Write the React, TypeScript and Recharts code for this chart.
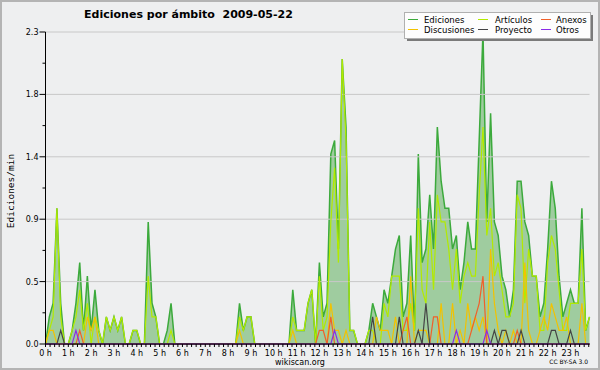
import { ComposedChart, Area, Line, XAxis, YAxis, ReferenceLine } from "recharts";

// 10-minute bins, one row per hour (edits per minute)
const ediciones = [
  0, 0.2, 0.3, 1.0, 0.3, 0,
  0, 0.1, 0.3, 0.6, 0.1, 0.5,
  0.1, 0.4, 0.1, 0, 0.2, 0.1,
  0.2, 0.1, 0.2, 0, 0, 0.1,
  0.1, 0, 0, 0.9, 0.3, 0.2,
  0, 0, 0.1, 0.3, 0, 0,
  0, 0, 0, 0, 0, 0,
  0, 0, 0, 0, 0, 0,
  0, 0, 0, 0.3, 0.1, 0.2,
  0.2, 0, 0, 0, 0, 0,
  0, 0, 0, 0, 0, 0.4,
  0.1, 0.1, 0.1, 0.3, 0.4, 0,
  0.6, 0.2, 0.3, 1.4, 1.5, 0.7,
  2.1, 1.6, 0.1, 0.1, 0, 0,
  0, 0.1, 0.3, 0.2, 0.1, 0.4,
  0.3, 0.5, 0.7, 0.8, 0.2, 0.3,
  0.8, 0.1, 1.4, 0.6, 0.7, 1.1,
  0.7, 1.6, 1.2, 1.0, 1.0, 0.7,
  0.8, 0.4, 0.6, 0.9, 0.7, 0.7,
  1.5, 2.3, 0.9, 1.7, 0.9, 0.8,
  0.5, 0.4, 0.2, 0.4, 1.2, 1.2,
  0.9, 0.8, 0.5, 0.5, 0.2, 0.3,
  0.7, 1.2, 1.0, 0.5, 0.2, 0.3,
  0.4, 0.3, 0.3, 1.0, 0.1, 0.2,
];

const articulos = [
  0, 0.1, 0.2, 1.0, 0.2, 0,
  0, 0.1, 0.2, 0.4, 0.1, 0.3,
  0, 0.2, 0.1, 0, 0.2, 0.1,
  0.2, 0.1, 0.2, 0, 0, 0.1,
  0.1, 0, 0, 0.5, 0.2, 0.2,
  0, 0, 0, 0.1, 0, 0,
  0, 0, 0, 0, 0, 0,
  0, 0, 0, 0, 0, 0,
  0, 0, 0, 0.2, 0.1, 0.2,
  0.2, 0, 0, 0, 0, 0,
  0, 0, 0, 0, 0, 0.2,
  0.1, 0.1, 0.1, 0.3, 0.4, 0,
  0.5, 0.1, 0.2, 0.9, 1.3, 0.6,
  2.1, 1.5, 0.1, 0.1, 0, 0,
  0, 0.1, 0.1, 0, 0, 0.3,
  0.2, 0.5, 0.5, 0.5, 0.1, 0.1,
  0.3, 0.1, 1.0, 0.4, 0.3, 0.9,
  0.4, 1.1, 0.9, 0.9, 0.7, 0.4,
  0.7, 0.3, 0.5, 0.6, 0.5, 0.5,
  1.1, 1.6, 0.8, 1.0, 0.5, 0.6,
  0.4, 0.2, 0.2, 0.3, 1.1, 1.0,
  0.3, 0.7, 0.5, 0.5, 0.1, 0.1,
  0.6, 0.8, 0.7, 0.4, 0.1, 0.1,
  0.3, 0.3, 0.3, 0.7, 0.1, 0.2,
];

const discusiones = [
  0, 0.1, 0.1, 0, 0, 0,
  0, 0, 0, 0, 0, 0.2,
  0.1, 0.2, 0, 0, 0, 0,
  0, 0, 0, 0, 0, 0,
  0, 0, 0, 0, 0, 0,
  0, 0, 0, 0, 0, 0,
  0, 0, 0, 0, 0, 0,
  0, 0, 0, 0, 0, 0,
  0, 0, 0, 0.1, 0, 0,
  0, 0, 0, 0, 0, 0,
  0, 0, 0, 0, 0, 0.1,
  0, 0, 0, 0, 0, 0,
  0, 0, 0, 0.3, 0.1, 0.1,
  0, 0.1, 0, 0, 0, 0,
  0, 0, 0, 0.2, 0.1, 0.1,
  0.1, 0, 0.2, 0, 0, 0,
  0.5, 0, 0.1, 0.1, 0.1, 0,
  0, 0, 0.3, 0, 0, 0.3,
  0, 0.1, 0, 0.3, 0.1, 0.2,
  0.1, 0.2, 0, 0.7, 0.3, 0.1,
  0, 0.1, 0, 0.1, 0, 0,
  0.6, 0.1, 0, 0, 0.1, 0.2,
  0.1, 0.3, 0.2, 0.1, 0.1, 0.2,
  0, 0, 0, 0.3, 0, 0,
];

const anexos = [
  0, 0, 0, 0, 0, 0,
  0, 0, 0, 0.1, 0, 0,
  0, 0, 0, 0, 0, 0,
  0, 0, 0, 0, 0, 0,
  0, 0, 0, 0, 0, 0,
  0, 0, 0, 0, 0, 0,
  0, 0, 0, 0, 0, 0,
  0, 0, 0, 0, 0, 0,
  0, 0, 0, 0, 0, 0,
  0, 0, 0, 0, 0, 0,
  0, 0, 0, 0, 0, 0,
  0, 0, 0, 0, 0, 0,
  0.1, 0.1, 0, 0.2, 0, 0,
  0, 0, 0, 0, 0, 0,
  0, 0, 0, 0, 0, 0,
  0, 0, 0, 0, 0.1, 0.2,
  0, 0, 0, 0, 0, 0,
  0.2, 0.2, 0, 0, 0, 0,
  0, 0, 0, 0, 0.1, 0.2,
  0.3, 0.5, 0, 0, 0, 0,
  0, 0, 0, 0, 0.1, 0,
  0, 0, 0, 0, 0, 0,
  0, 0, 0, 0, 0, 0,
  0, 0, 0, 0, 0, 0,
];

const proyecto = [
  0, 0, 0, 0, 0.1, 0,
  0, 0, 0, 0, 0, 0,
  0, 0, 0, 0, 0, 0,
  0, 0, 0, 0, 0, 0,
  0, 0, 0, 0, 0, 0,
  0, 0, 0, 0, 0, 0,
  0, 0, 0, 0, 0, 0,
  0, 0, 0, 0, 0, 0,
  0, 0, 0, 0, 0, 0,
  0, 0, 0, 0, 0, 0,
  0, 0, 0, 0, 0, 0,
  0, 0, 0, 0, 0, 0,
  0, 0, 0, 0, 0, 0,
  0, 0, 0, 0, 0, 0,
  0, 0, 0.2, 0, 0, 0,
  0, 0, 0, 0.2, 0, 0,
  0, 0, 0.1, 0, 0.3, 0,
  0, 0, 0, 0, 0, 0,
  0, 0, 0, 0, 0, 0,
  0, 0, 0, 0, 0.1, 0,
  0.1, 0.1, 0, 0, 0, 0.1,
  0, 0, 0, 0, 0, 0,
  0, 0.1, 0.1, 0, 0, 0,
  0.1, 0, 0, 0, 0, 0,
];

const otros = [
  0, 0, 0, 0, 0, 0,
  0, 0, 0.1, 0, 0, 0,
  0, 0, 0, 0, 0, 0,
  0, 0, 0, 0, 0, 0,
  0, 0, 0, 0, 0, 0,
  0, 0, 0, 0, 0, 0,
  0, 0, 0, 0, 0, 0,
  0, 0, 0, 0, 0, 0,
  0, 0, 0, 0, 0, 0,
  0, 0, 0, 0, 0, 0,
  0, 0, 0, 0, 0, 0,
  0, 0, 0, 0, 0, 0,
  0, 0, 0, 0, 0.1, 0,
  0, 0, 0, 0, 0, 0,
  0, 0, 0, 0, 0, 0,
  0, 0, 0, 0, 0, 0,
  0, 0, 0, 0, 0, 0,
  0, 0, 0, 0, 0, 0,
  0.1, 0, 0, 0, 0, 0,
  0, 0, 0.1, 0, 0, 0,
  0, 0, 0, 0, 0, 0,
  0, 0, 0, 0, 0, 0,
  0, 0, 0, 0, 0, 0,
  0, 0, 0, 0, 0, 0,
];

const hourLabels = Array.from({ length: 24 }, (_, h) => `${h} h`);
const yTicks = [0, 0.23, 0.46, 0.69, 0.92, 1.15, 1.38, 1.61, 1.84, 2.07, 2.3];
const yMajor = [0, 0.46, 0.92, 1.38, 1.84, 2.3];
// minor ticks every 12 minutes (1.2 bins)
const xTicks = Array.from({ length: 120 }, (_, k) => Number((k * 1.2).toFixed(1)));

const series = [
  { key: "ediciones", name: "Ediciones", color: "#3caa3c" },
  { key: "articulos", name: "Artículos", color: "#b2ea00" },
  { key: "anexos", name: "Anexos", color: "#f0602a" },
  { key: "discusiones", name: "Discusiones", color: "#f2c200" },
  { key: "proyecto", name: "Proyecto", color: "#444444" },
  { key: "otros", name: "Otros", color: "#8a2be8" },
];
const colorOf = (k: string) => series.find((s) => s.key === k)!.color;

const data = ediciones.map((v, i) => ({
  i,
  ediciones: v,
  articulos: articulos[i],
  discusiones: discusiones[i],
  anexos: anexos[i],
  proyecto: proyecto[i],
  otros: otros[i],
}));

const FONT = "'DejaVu Sans', sans-serif";

function XTick({ x, y, payload }: any) {
  const v = payload.value;
  const h = Math.round(v / 6);
  const isHour = Math.abs(v / 6 - h) < 1e-6;
  return (
    <g>
      <line x1={x} x2={x} y1={y} y2={y + 3} stroke="#000" />
      {isHour && (
        <text x={x} y={y + 12} textAnchor="middle" fontSize={8} fontFamily={FONT} fill="#000">
          {hourLabels[h]}
        </text>
      )}
    </g>
  );
}

function YTick({ x, y, payload }: any) {
  const v = payload.value;
  const major = yMajor.some((m) => Math.abs(m - v) < 1e-6);
  return (
    <g>
      <line x1={x - (major ? 6 : 3)} x2={x} y1={y} y2={y} stroke="#000" />
      {major && (
        <text x={x - 7} y={y + 3} textAnchor="end" fontSize={8} fontFamily={FONT} fill="#000">
          {v.toFixed(1)}
        </text>
      )}
    </g>
  );
}

const legendRows = [
  ["ediciones", "articulos", "anexos"],
  ["discusiones", "proyecto", "otros"],
];
const legendCols = [408, 478, 541];
const legendTextX = [424, 495, 556];

export default function App() {
  return (
    <div style={{ position: "absolute", left: 0, top: 0, width: 600, height: 370, background: "#eeeff0" }}>
      <ComposedChart width={600} height={370} data={data} margin={{ top: 32, right: 10.5, bottom: 0, left: 0.5 }}>
        {yMajor.map((v) => (
          <ReferenceLine key={v} y={v} stroke="#c8c8c8" strokeWidth={1} ifOverflow="visible" />
        ))}
        <XAxis
          dataKey="i"
          type="number"
          domain={[0, 143]}
          ticks={xTicks}
          interval={0}
          height={26}
          tickSize={0}
          tickMargin={0}
          tickLine={false}
          axisLine={{ stroke: "#000" }}
          tick={<XTick />}
        />
        <YAxis
          type="number"
          domain={[0, 2.3]}
          ticks={yTicks}
          interval={0}
          width={45}
          tickSize={0}
          tickMargin={0}
          tickLine={false}
          axisLine={{ stroke: "#000" }}
          tick={<YTick />}
        />
        <Area
          type="linear"
          dataKey="ediciones"
          stroke={colorOf("ediciones")}
          strokeWidth={1.5}
          fill="#9fcc9f"
          fillOpacity={1}
          dot={false}
          activeDot={false}
          isAnimationActive={false}
        />
        {["articulos", "discusiones", "anexos", "proyecto", "otros"].map((k) => (
          <Line
            key={k}
            type="linear"
            dataKey={k}
            stroke={colorOf(k)}
            strokeWidth={1.2}
            dot={false}
            activeDot={false}
            isAnimationActive={false}
          />
        ))}
      </ComposedChart>
      <svg width={600} height={370} style={{ position: "absolute", left: 0, top: 0, pointerEvents: "none" }}>
        <text x={188.5} y={18} textAnchor="middle" fontSize={11} fontWeight="bold" fontFamily={FONT} fill="#000">
          Ediciones por ámbito{"\u00a0\u00a0"}2009-05-22
        </text>
        <text
          x={14}
          y={191}
          transform="rotate(-90 14 191)"
          textAnchor="middle"
          fontSize={9.5}
          fontFamily="'DejaVu Sans Mono', monospace"
          fill="#000"
        >
          Ediciones/min
        </text>
        <text x={300} y={365} textAnchor="middle" fontSize={8} fontFamily={FONT} fill="#000">
          wikiscan.org
        </text>
        <text x={588} y={364} textAnchor="end" fontSize={6} fontFamily={FONT} fill="#000">
          CC BY-SA 3.0
        </text>
        <rect x={407} y={15} width={186} height={26} fill="#7a7a7a" />
        <rect x={404.5} y={12.5} width={186} height={26} fill="#fdfdfd" stroke="#b0b0b0" />
        {legendRows.map((row, r) =>
          row.map((k, c) => {
            const s = series.find((z) => z.key === k)!;
            const cy = 19.5 + r * 10;
            return (
              <g key={k}>
                <line x1={legendCols[c]} x2={legendCols[c] + 10} y1={cy} y2={cy} stroke={s.color} strokeWidth={1} />
                <text x={legendTextX[c]} y={cy + 3} fontSize={8.5} fontFamily={FONT} fill="#000">
                  {s.name}
                </text>
              </g>
            );
          })
        )}
      </svg>
      <div
        style={{
          position: "absolute",
          left: 0,
          top: 0,
          width: 600,
          height: 370,
          boxSizing: "border-box",
          border: "2px solid #b4b4b4",
          pointerEvents: "none",
        }}
      />
    </div>
  );
}
